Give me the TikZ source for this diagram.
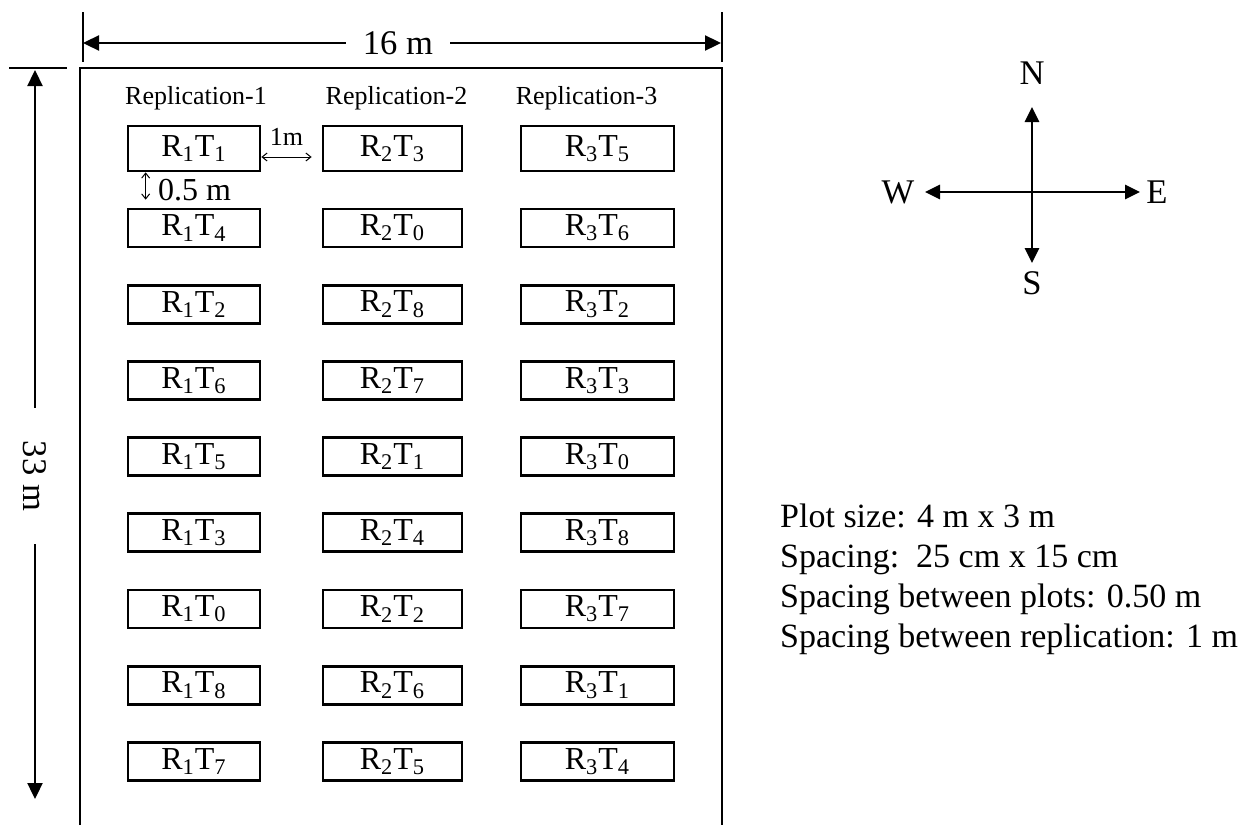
\documentclass[tikz,border=0pt]{standalone}
\usepackage{fontspec}
\setmainfont{Liberation Serif}
\usetikzlibrary{arrows.meta}
\begin{document}
\begin{tikzpicture}[x=0.5pt, y=-0.5pt, line width=1.2pt,
    plot/.style={draw, line width=1.35pt, inner sep=0pt, font=\fontsize{16}{18}\selectfont},
    dim/.style={line width=1.15pt, >={Triangle[length=8pt, width=7.5pt]}},
    gap/.style={line width=0.5pt, <->, >={Straight Barb[length=2.5pt, width=4pt]}},
    big/.style={font=\fontsize{17.3}{20}\selectfont},
    note/.style={font=\fontsize{17}{20}\selectfont, anchor=base west, inner sep=0pt},
    replab/.style={font=\fontsize{13}{15}\selectfont, anchor=base}]
  \useasboundingbox (0,0) rectangle (1246,825);
  % field
  \draw[line width=1.3pt] (80,825) -- (80,68) -- (722,68) -- (722,825);
  % width 16 m
  \draw[dim] (83,12) -- (83,62);
  \draw[dim] (722,12) -- (722,62);
  \coordinate (wl) at (83,43);
  \coordinate (wr) at (721,43);
  \node[big, inner xsep=8pt] (len16) at (398,43) {16 m};
  \draw[dim, ->] (len16) -- (wl);
  \draw[dim, ->] (len16) -- (wr);
  % length 33 m
  \draw[dim] (9,68) -- (67,68);
  \coordinate (lt) at (35,70);
  \coordinate (lb) at (35,799);
  \node[big, rotate=-90, inner xsep=16pt] (len33) at (35,476) {33 m};
  \draw[dim, ->] (len33) -- (lt);
  \draw[dim, ->] (len33) -- (lb);
  % replications
  \node[replab] (rep1) at (196,104) {Replication-1};
  \node[replab] (rep2) at (396.5,104) {Replication-2};
  \node[replab] (rep3) at (586.5,104) {Replication-3};
  % plots
  \foreach \col/\cx/\w/\labs in {1/194/66/{1,4,2,6,5,3,0,8,7},
      2/392.5/69.5/{3,0,8,7,1,4,2,6,5}, 3/597.5/76.5/{5,6,2,3,0,8,7,1,4}} {
    \foreach \t [count=\row] in \labs {
      \pgfmathsetmacro\cy{\row==1 ? 148.5 : 228+76.2*(\row-2)}
      \pgfmathsetmacro\h{\row==1 ? 22.5 : 19}
      \node[plot, minimum width=\w pt, minimum height=\h pt] (r\col p\row) at (\cx,\cy)
        {R\textsubscript{\col}T\textsubscript{\t}};
    }
  }
  % spacings
  \draw[gap] ([yshift=-4.25pt]r1p1.east) -- ([xshift=-5pt, yshift=-4.25pt]r2p1.west)
    node[midway, above=2pt, font=\fontsize{13}{15}\selectfont] (gaplab) {1m};
  \draw[gap] ([xshift=9.5pt]r1p1.south west) -- ([xshift=9.5pt, yshift=4pt]r1p2.north west);
  \node[anchor=base west, inner sep=0pt, font=\fontsize{16}{18}\selectfont] (rowlab) at (157,200) {0.5 m};
  % compass
  \coordinate (ntip) at (1032,107);
  \coordinate (stip) at (1032,263);
  \coordinate (wtip) at (925,192);
  \coordinate (etip) at (1140,192);
  \draw[dim, line width=1.4pt, <->, >={Triangle[length=7.5pt, width=7pt]}] (wtip) -- (etip);
  \draw[dim, line width=1.4pt, <->, >={Triangle[length=7.5pt, width=7pt]}] (ntip) -- (stip);
  \node[big] (north) at (1032,73) {N};
  \node[big] (south) at (1032,283) {S};
  \node[big] (west) at (898,192) {W};
  \node[big] (east) at (1157,192) {E};
  % notes
  \node[note] (note1) at (779,527) {Plot size: 4 m x 3 m};
  \node[note] (note2) at (779,567) {Spacing:\ \ 25 cm x 15 cm};
  \node[note] (note3) at (779,607) {Spacing between plots: 0.50 m};
  \node[note] (note4) at (779,647) {Spacing between replication: 1 m};
\end{tikzpicture}
\end{document}
